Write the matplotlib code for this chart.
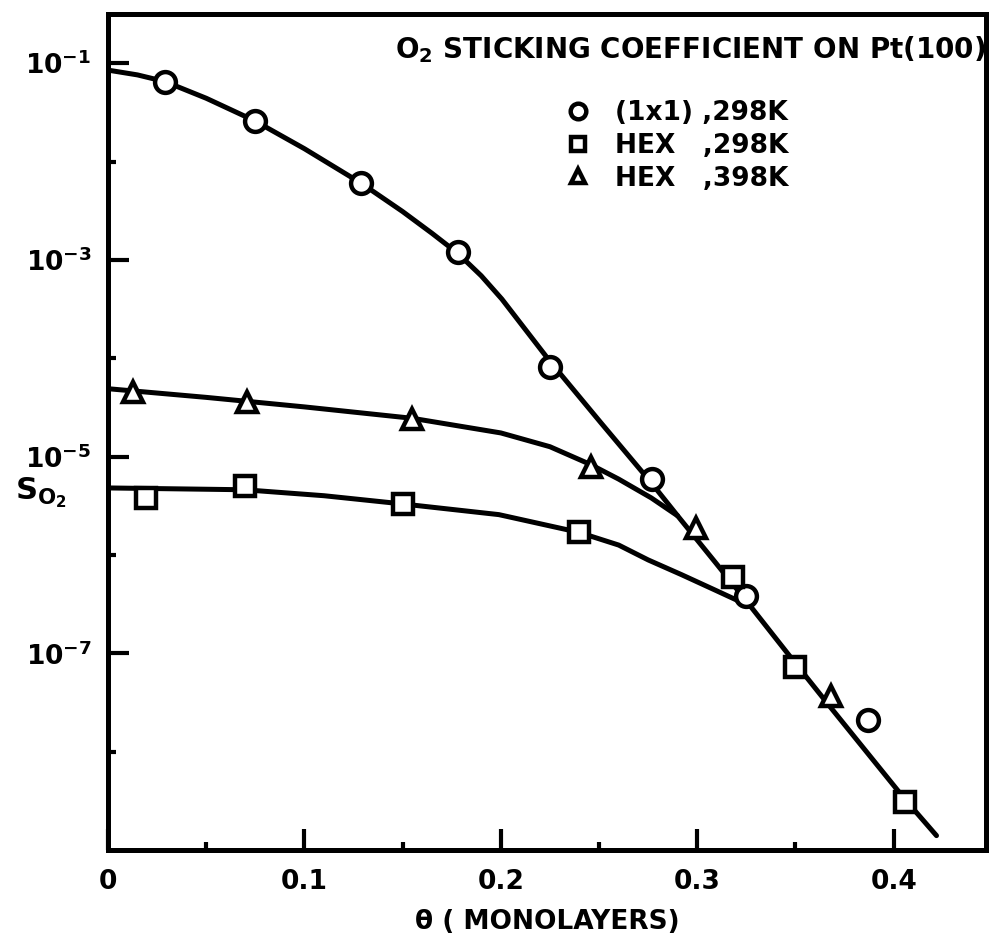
import matplotlib.pyplot as plt
from matplotlib.ticker import FixedLocator, FixedFormatter, NullFormatter

plt.rcParams['font.family'] = 'DejaVu Sans'
plt.rcParams['font.weight'] = 'bold'
plt.rcParams['mathtext.default'] = 'bf'

# measured points, theta (monolayers) vs sticking coefficient
circ_x = [0.029, 0.0746, 0.129, 0.178, 0.225, 0.277, 0.325, 0.387]
circ_s = [6.5e-2, 2.6e-2, 6.0e-3, 1.2e-3, 8.1e-5, 5.9e-6, 3.8e-7, 2.1e-8]

sq_x = [0.0193, 0.0695, 0.150, 0.240, 0.318, 0.350, 0.4056]
sq_s = [3.8e-6, 5.0e-6, 3.3e-6, 1.7e-6, 6.0e-7, 7.2e-8, 3.1e-9]

tri_x = [0.0127, 0.0706, 0.155, 0.246, 0.2995, 0.368]
tri_s = [4.5e-5, 3.6e-5, 2.4e-5, 7.9e-6, 1.9e-6, 3.7e-8]

# hand-drawn fit curves
fit1_x = [0, 0.015, 0.029, 0.05, 0.0746, 0.10, 0.129, 0.150, 0.165, 0.178, 0.19,
          0.2005, 0.225, 0.251, 0.276, 0.290, 0.309, 0.3245, 0.350, 0.368, 0.387,
          0.4056, 0.4218]
fit1_s = [8.5e-2, 7.6e-2, 6.5e-2, 4.4e-2, 2.6e-2, 1.35e-2, 6.0e-3, 3.1e-3, 1.86e-3,
          1.17e-3, 6.9e-4, 4.0e-4, 9.3e-5, 2.2e-5, 5.6e-6, 2.5e-6, 8.5e-7, 3.5e-7,
          7.9e-8, 2.8e-8, 9.5e-9, 3.3e-9, 1.4e-9]

fit2_x = [0, 0.05, 0.10, 0.155, 0.20, 0.225, 0.2457, 0.260, 0.2766, 0.290]
fit2_s = [4.9e-5, 4.0e-5, 3.2e-5, 2.45e-5, 1.74e-5, 1.26e-5, 8.3e-6, 5.9e-6, 3.8e-6, 2.5e-6]

fit3_x = [0, 0.0695, 0.11, 0.150, 0.199, 0.2396, 0.260, 0.275, 0.292, 0.309, 0.327]
fit3_s = [4.8e-6, 4.6e-6, 4.0e-6, 3.3e-6, 2.57e-6, 1.7e-6, 1.26e-6, 8.9e-7, 6.3e-7,
          4.4e-7, 3.0e-7]

legend_labels = ['(1x1) ,298K', 'HEX   ,298K', 'HEX   ,398K']
xticks = [0, 0.1, 0.2, 0.3, 0.4]
xticklabels = ['0', '0.1', '0.2', '0.3', '0.4']
yticks = [1e-1, 1e-3, 1e-5, 1e-7]
yticklabels = ['10$^{-1}$', '10$^{-3}$', '10$^{-5}$', '10$^{-7}$']

fig = plt.figure(figsize=(9.97, 9.51), dpi=100)
ax = fig.add_axes([108/997, 1 - 850/951, 878/997, 836/951])

for fx, fs in [(fit1_x, fit1_s), (fit2_x, fit2_s), (fit3_x, fit3_s)]:
    ax.plot(fx, fs, color='black', lw=3.6, solid_capstyle='round', solid_joinstyle='round')

h1, = ax.plot(circ_x, circ_s, 'o', ls='none', ms=15, mfc='white', mec='black', mew=3.2)
h2, = ax.plot(sq_x, sq_s, 's', ls='none', ms=14, mfc='white', mec='black', mew=3.2)
h3, = ax.plot(tri_x, tri_s, '^', ls='none', ms=14, mfc='white', mec='black', mew=3.2)

ax.set_yscale('log')
ax.set_xlim(0, 0.447)
ax.set_ylim(1e-9, 10 ** -0.5)

ax.xaxis.set_major_locator(FixedLocator(xticks))
ax.xaxis.set_major_formatter(FixedFormatter(xticklabels))
ax.xaxis.set_minor_locator(FixedLocator([0.05, 0.15, 0.25, 0.35]))
ax.yaxis.set_major_locator(FixedLocator(yticks))
ax.yaxis.set_major_formatter(FixedFormatter(yticklabels))
ax.yaxis.set_minor_locator(FixedLocator([1e-2, 1e-4, 1e-6, 1e-8]))
ax.yaxis.set_minor_formatter(NullFormatter())

ax.tick_params(which='major', direction='in', length=15, width=3, labelsize=19, pad=12)
ax.tick_params(which='minor', direction='in', length=6, width=3)
ax.tick_params(axis='x', which='major', pad=14)
for sp in ax.spines.values():
    sp.set_linewidth(3.6)

ax.text(0.327, 0.957, 'O$_2$ STICKING COEFFICIENT ON Pt(100)', transform=ax.transAxes,
        fontsize=20, ha='left', va='center')
ax.legend([h1, h2, h3], legend_labels, loc='upper left', bbox_to_anchor=(0.49, 0.925),
          frameon=False, fontsize=19, markerscale=0.75, handlelength=1.2,
          handletextpad=0.8, labelspacing=0.25)

ax.set_xlabel('θ ( MONOLAYERS)', fontsize=19, fontweight='bold', labelpad=10)
ax.text(-0.077, 0.428, 'S$_{O_2}$', transform=ax.transAxes, fontsize=22,
        ha='center', va='center')

fig.savefig('out.png', dpi=100)
